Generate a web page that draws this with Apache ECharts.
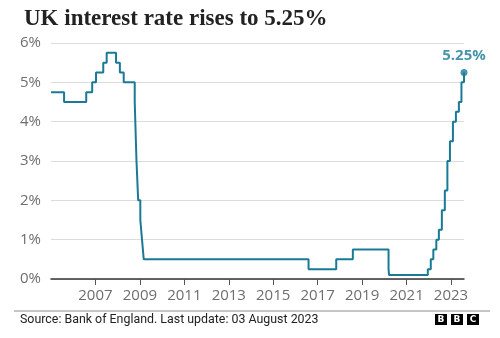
<!DOCTYPE html>
<html>
<head>
<meta charset="utf-8">
<script src="https://cdn.jsdelivr.net/npm/echarts@6/dist/echarts.min.js"></script>
<style>
html,body{margin:0;padding:0;background:#fff;}
#chart{width:500px;height:338px;}
</style>
</head>
<body>
<div id="chart"></div>
<script>
// Bank of England base rate change dates and new rate (%)
var changeDates = ['2005-01-01','2005-08-04','2006-08-03','2006-11-09','2007-01-11','2007-05-10','2007-07-05','2007-12-06','2008-02-07','2008-04-10','2008-10-08','2008-11-06','2008-12-04','2009-01-08','2009-02-05','2009-03-05','2016-08-04','2017-11-02','2018-08-02','2020-03-11','2020-03-19','2021-12-16','2022-02-03','2022-03-17','2022-05-05','2022-06-16','2022-08-04','2022-09-22','2022-11-03','2022-12-15','2023-02-02','2023-03-23','2023-05-11','2023-06-22','2023-08-03'];
var rates = [4.75,4.5,4.75,5,5.25,5.5,5.75,5.5,5.25,5,4.5,3,2,1.5,1,0.5,0.25,0.5,0.75,0.25,0.1,0.25,0.5,0.75,1,1.25,1.75,2.25,3,3.5,4,4.25,4.5,5,5.25];
var yearTicks = ['2007-01-01','2009-01-01','2011-01-01','2013-01-01','2015-01-01','2017-01-01','2019-01-01','2021-01-01','2023-01-01'];
var yTickLabels = ['0%','1%','2%','3%','4%','5%','6%'];
var axisStart = '2005-01-01';
var axisEnd = '2023-08-03';

var titleText = 'UK interest rate rises to 5.25%';
var sourceText = 'Source: Bank of England. Last update: 03 August 2023';

function ts(d){ return Date.parse(d + 'T00:00:00Z'); }
var teal = '#1a7a96';
var seriesData = changeDates.map(function(d, i){ return [ts(d), rates[i]]; });
var last = seriesData[seriesData.length - 1];
var tickTs = yearTicks.map(ts);

var chart = echarts.init(document.getElementById('chart'), null, {renderer:'canvas'});
chart.setOption({
  animation: false,
  backgroundColor: '#fff',
  title: {
    text: titleText,
    left: 19, top: 3,
    textStyle: {fontFamily: 'Liberation Serif', fontWeight: 'bold', fontSize: 23, color: '#222'}
  },
  grid: {left: 51, right: 36, top: 43, bottom: 59, containLabel: false},
  xAxis: {
    type: 'value',
    min: ts(axisStart),
    max: ts(axisEnd),
    axisLine: {show: true, onZero: false, lineStyle: {color: '#333', width: 1.5}},
    axisTick: {show: true, length: 6, lineStyle: {color: '#555'}, customValues: tickTs},
    axisLabel: {
      customValues: tickTs,
      margin: 9,
      fontFamily: 'Open Sans', fontSize: 15, color: '#6e6e6e',
      formatter: function(v){ return String(new Date(v).getUTCFullYear()); }
    },
    splitLine: {show: false}
  },
  yAxis: {
    type: 'value',
    min: 0, max: 6, interval: 1,
    axisLine: {show: false},
    axisTick: {show: false},
    axisLabel: {
      align: 'left', margin: 31,
      fontFamily: 'Open Sans', fontSize: 15, color: '#6e6e6e',
      formatter: function(v){ return yTickLabels[Math.round(v)]; }
    },
    splitLine: {lineStyle: {color: '#dcdcdc', width: 1}}
  },
  series: [
    {
      type: 'line',
      step: 'end',
      data: seriesData,
      showSymbol: false,
      lineStyle: {color: teal, width: 2},
      z: 3
    },
    {
      type: 'scatter',
      data: [last],
      symbol: 'circle',
      symbolSize: 7,
      clip: false,
      itemStyle: {color: teal},
      label: {
        show: true, position: 'top', distance: 6,
        fontFamily: 'Open Sans', fontWeight: 'bold', fontSize: 15, color: teal,
        formatter: function(p){ return p.value[1].toFixed(2) + '%'; }
      },
      z: 4
    }
  ],
  graphic: [
    {type: 'line', shape: {x1: 14, y1: 311, x2: 490, y2: 311}, style: {stroke: '#8a8a8a', lineWidth: 1}},
    {type: 'text', left: 20, top: 314, style: {text: sourceText, fontFamily: 'Roboto', fontSize: 12.4, fill: '#222'}},
    {type: 'rect', shape: {x: 435, y: 314, width: 12, height: 11}, style: {fill: '#000'}},
    {type: 'rect', shape: {x: 451, y: 314, width: 12, height: 11}, style: {fill: '#000'}},
    {type: 'rect', shape: {x: 467, y: 314, width: 12, height: 11}, style: {fill: '#000'}},
    {type: 'text', x: 441, y: 319.5, style: {text: 'B', fontFamily: 'DejaVu Sans', fontWeight: 'bold', fontSize: 9, fill: '#fff', align: 'center', verticalAlign: 'middle'}},
    {type: 'text', x: 457, y: 319.5, style: {text: 'B', fontFamily: 'DejaVu Sans', fontWeight: 'bold', fontSize: 9, fill: '#fff', align: 'center', verticalAlign: 'middle'}},
    {type: 'text', x: 473, y: 319.5, style: {text: 'C', fontFamily: 'DejaVu Sans', fontWeight: 'bold', fontSize: 9, fill: '#fff', align: 'center', verticalAlign: 'middle'}}
  ]
});
</script>
</body>
</html>
